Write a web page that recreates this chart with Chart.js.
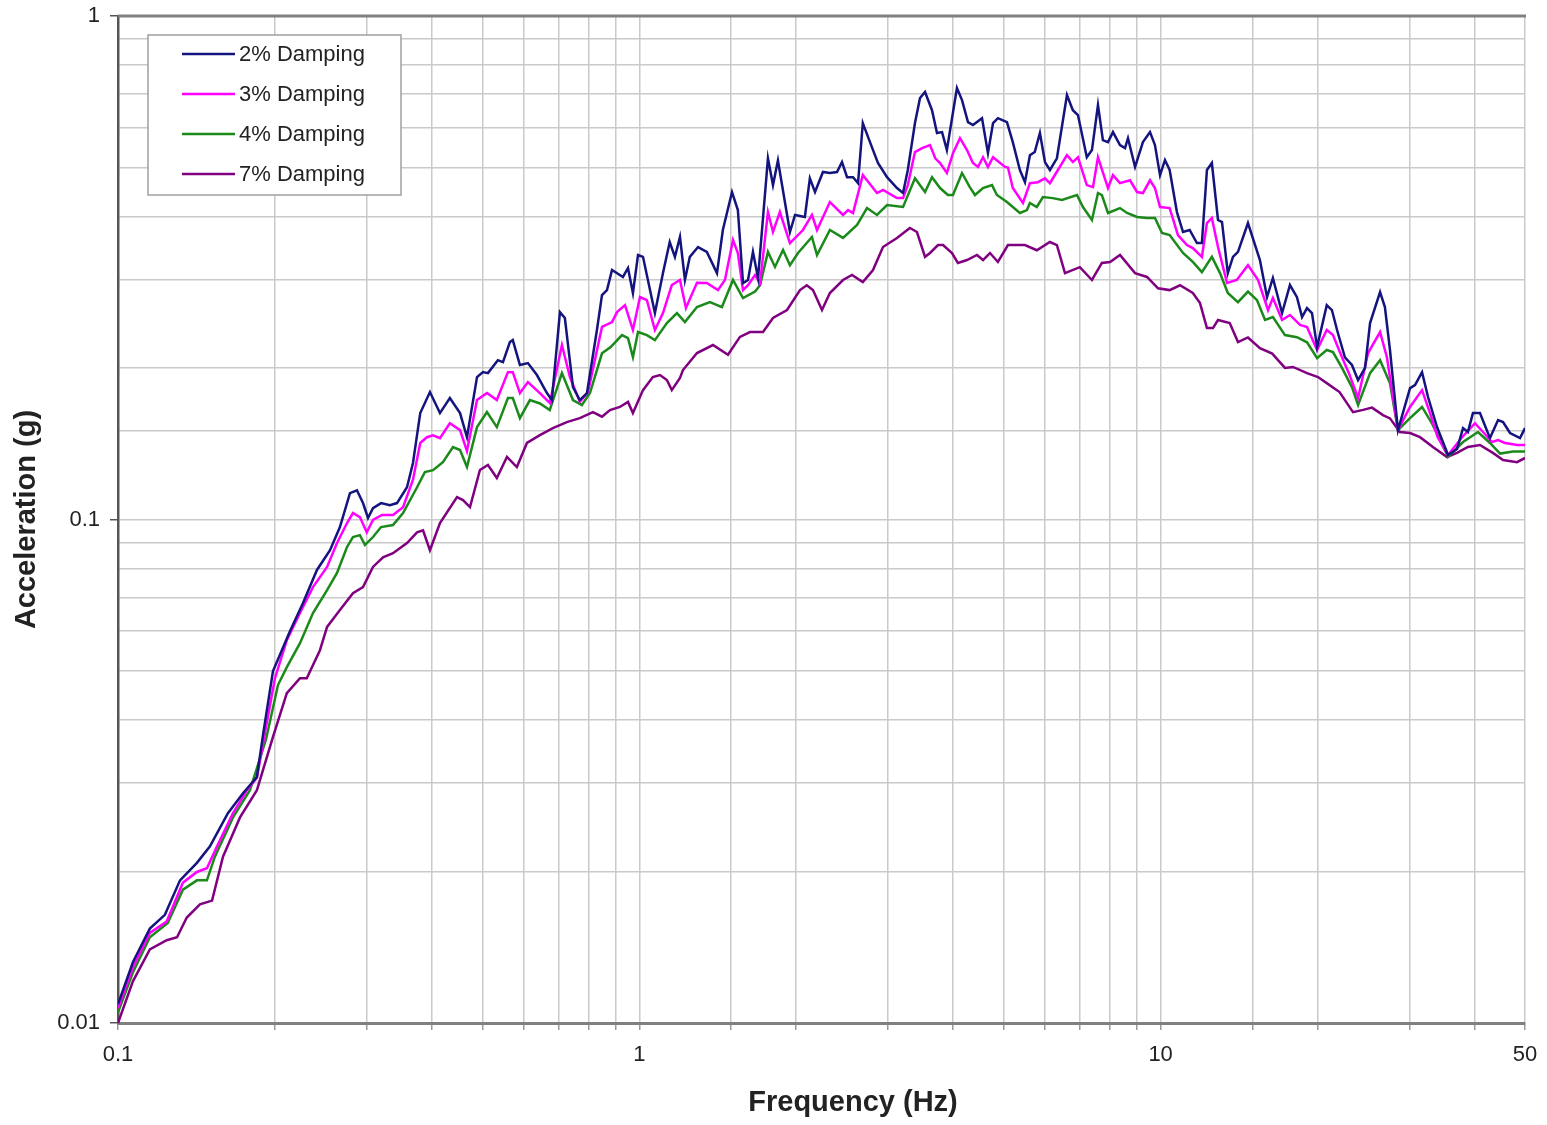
<!DOCTYPE html>
<html>
<head>
<meta charset="utf-8">
<title>Response spectra</title>
<script src="https://cdn.jsdelivr.net/npm/chart.js@4.4.1/dist/chart.umd.min.js"></script>
<style>
  html, body { margin: 0; padding: 0; background: #fff; }
  canvas { display: block; }
</style>
</head>
<body>
<canvas id="spectrum" width="1547" height="1125"></canvas>
<script>
// [frequency (Hz), acceleration (g)]
const damp2 = [
  [0.1,0.0109],[0.1068,0.0132],[0.1151,0.0154],[0.123,0.0164],[0.1315,0.0192],[0.1417,0.0208],[0.15,0.0224],
  [0.1625,0.0261],[0.1737,0.0286],[0.1847,0.0308],[0.19,0.0377],[0.1983,0.05],[0.2137,0.06],[0.2263,0.0682],
  [0.2408,0.0794],[0.2551,0.0869],[0.2665,0.0966],[0.2786,0.1128],[0.2873,0.1143],[0.2951,0.1078],[0.3017,0.1007],
  [0.3084,0.1053],[0.3196,0.1078],[0.3323,0.1068],[0.3429,0.1078],[0.3584,0.1159],[0.368,0.1295],[0.38,0.1627],
  [0.3966,0.1791],[0.4146,0.1627],[0.4331,0.1743],[0.453,0.1627],[0.4671,0.1457],[0.4883,0.1918],[0.5013,0.1962],
  [0.5124,0.1953],[0.5354,0.2072],[0.5476,0.2053],[0.5646,0.2251],[0.5719,0.2272],[0.5902,0.2027],[0.6114,0.2045],
  [0.6362,0.1936],[0.665,0.1783],[0.6796,0.1727],[0.7043,0.2582],[0.7198,0.2513],[0.746,0.1832],[0.7689,0.1727],
  [0.7936,0.1783],[0.8293,0.2379],[0.848,0.2791],[0.8669,0.2855],[0.8865,0.313],[0.9303,0.3032],[0.9513,0.3159],
  [0.9722,0.2817],[0.9943,0.3352],[1.0164,0.3324],[1.0713,0.257],[1.1102,0.3086],[1.1438,0.3557],[1.1703,0.3324],
  [1.1968,0.364],[1.2233,0.299],[1.25,0.3324],[1.296,0.3476],[1.3474,0.34],[1.4093,0.3086],[1.4463,0.3758],
  [1.506,0.4471],[1.5455,0.4117],[1.5809,0.2949],[1.6163,0.299],[1.652,0.34],[1.6895,0.3018],[1.765,0.5216],
  [1.8048,0.4615],[1.8446,0.5166],[1.9452,0.3724],[1.9894,0.4026],[2.0778,0.3989],[2.1241,0.4759],[2.1728,0.4471],
  [2.2505,0.49],[2.3204,0.4877],[2.3947,0.49],[2.448,0.5128],[2.5033,0.4785],[2.5701,0.4785],[2.6276,0.4656],
  [2.6837,0.6129],[2.7703,0.5618],[2.8693,0.5105],[2.9868,0.4785],[3.1208,0.4553],[3.2057,0.4451],[3.2738,0.4945],
  [3.379,0.6129],[3.4551,0.6872],[3.5325,0.7064],[3.643,0.65],[3.7244,0.5855],[3.8084,0.5881],[3.8904,0.5417],
  [4.0672,0.7192],[4.1592,0.6808],[4.2705,0.6156],[4.3647,0.6074],[4.5437,0.6266],[4.6642,0.5342],[4.7703,0.6129],
  [4.874,0.6266],[5.0729,0.6156],[5.2055,0.5618],[5.3712,0.4945],[5.4927,0.4677],[5.6142,0.5291],[5.735,0.5367],
  [5.8674,0.5855],[6.0,0.5128],[6.1326,0.4945],[6.3248,0.5216],[6.612,0.6968],[6.7865,0.65],[6.9412,0.6357],
  [7.2183,0.5241],[7.384,0.5417],[7.5829,0.6655],[7.749,0.5669],[7.9257,0.5618],[8.1025,0.5881],[8.3572,0.5543],
  [8.545,0.5467],[8.6578,0.5719],[8.9324,0.5014],[9.2481,0.5618],[9.542,0.5881],[9.7525,0.5543],[9.9735,0.4831],
  [10.194,0.5174],[10.407,0.4945],[10.747,0.4079],[11.039,0.3724],[11.369,0.3758],[11.74,0.354],[12.0,0.354],
  [12.27,0.4945],[12.54,0.5105],[12.885,0.3934],[13.115,0.3898],[13.455,0.3086],[13.765,0.3324],[14.074,0.34],
  [14.708,0.388],[15.505,0.3276],[16.0,0.2765],[16.42,0.3018],[17.1,0.257],[17.706,0.2922],[18.262,0.2765],
  [18.675,0.2524],[19.09,0.263],[19.514,0.257],[19.96,0.22],[20.83,0.2665],[21.31,0.2606],[21.8,0.2379],
  [22.57,0.21],[23.28,0.2027],[23.92,0.1892],[24.67,0.2],[25.22,0.2455],[26.36,0.283],[26.93,0.2642],
  [27.54,0.2171],[28.53,0.1505],[30.09,0.1824],[30.76,0.1849],[31.73,0.1962],[32.58,0.1751],[33.9,0.1526],
  [35.59,0.1343],[37.03,0.1381],[38.03,0.1519],[38.85,0.1492],[39.73,0.1627],[40.98,0.1627],[42.83,0.1451],
  [44.39,0.1576],[45.38,0.1561],[46.8,0.1485],[48.91,0.1451],[50,0.1519]
];
const damp3 = [
  [0.1,0.0107],[0.1068,0.0129],[0.1151,0.0151],[0.124,0.0159],[0.1332,0.019],[0.1417,0.01995],[0.1481,0.0203],
  [0.1548,0.0224],[0.1662,0.0261],[0.1768,0.029],[0.1847,0.0307],[0.1914,0.0377],[0.2,0.0484],[0.2108,0.0576],
  [0.2234,0.0652],[0.2366,0.0734],[0.2518,0.0805],[0.2631,0.0898],[0.275,0.0984],[0.2823,0.103],[0.2911,0.1011],
  [0.3,0.0943],[0.3084,0.0998],[0.321,0.1021],[0.3369,0.1021],[0.3522,0.1058],[0.368,0.12],[0.38,0.1419],
  [0.3913,0.1457],[0.402,0.147],[0.4146,0.1451],[0.4331,0.1553],[0.453,0.1505],[0.4671,0.1367],[0.4883,0.1727],
  [0.5102,0.1783],[0.533,0.1727],[0.5597,0.1962],[0.5719,0.1962],[0.5902,0.1783],[0.6114,0.1875],[0.6446,0.1783],
  [0.6734,0.1704],[0.7105,0.2221],[0.7361,0.1918],[0.7689,0.1712],[0.7972,0.1791],[0.848,0.2412],[0.8865,0.2467],
  [0.9064,0.2582],[0.9387,0.2665],[0.9722,0.2379],[1.003,0.2765],[1.034,0.2726],[1.0713,0.2379],[1.1102,0.257],
  [1.1544,0.2922],[1.1968,0.299],[1.2286,0.263],[1.2902,0.2951],[1.3474,0.2949],[1.4155,0.2855],[1.4596,0.299],
  [1.5126,0.359],[1.5455,0.3383],[1.5809,0.2855],[1.6163,0.2919],[1.667,0.3059],[1.7045,0.2949],[1.765,0.408],
  [1.8048,0.3724],[1.8605,0.408],[1.9452,0.354],[2.0602,0.3758],[2.1436,0.4026],[2.1922,0.3758],[2.3204,0.4271],
  [2.4591,0.4026],[2.5144,0.4117],[2.5701,0.4062],[2.6837,0.4831],[2.857,0.4451],[2.9337,0.4512],[3.1208,0.4348],
  [3.2057,0.4348],[3.2738,0.4615],[3.379,0.5367],[3.486,0.5467],[3.6111,0.5543],[3.6962,0.5216],[3.7749,0.5105],
  [3.8904,0.4877],[3.9965,0.5342],[4.1221,0.5719],[4.2519,0.5417],[4.3647,0.5105],[4.4642,0.5014],[4.5636,0.5241],
  [4.6642,0.5014],[4.7703,0.5241],[5.0287,0.5014],[5.095,0.5],[5.2055,0.4553],[5.4441,0.4252],[5.6142,0.4656],
  [5.8144,0.4677],[6.0,0.4759],[6.1326,0.4656],[6.3535,0.4945],[6.612,0.5291],[6.7865,0.5128],[6.9412,0.5241],
  [7.2183,0.4615],[7.4175,0.4573],[7.5829,0.5241],[7.9257,0.4553],[8.1025,0.4831],[8.3572,0.4656],[8.7342,0.4717],
  [9.012,0.4471],[9.2481,0.4451],[9.542,0.4717],[9.7525,0.4553],[9.9735,0.4175],[10.407,0.4155],[10.796,0.3672],
  [11.233,0.3508],[11.528,0.346],[12.0,0.3324],[12.27,0.388],[12.54,0.3971],[12.885,0.3476],[13.41,0.2949],
  [14.0,0.299],[14.708,0.32],[15.38,0.299],[16.07,0.2606],[16.42,0.2753],[17.1,0.249],[17.706,0.2548],
  [18.51,0.2434],[19.09,0.2412],[19.96,0.2171],[20.83,0.2379],[21.41,0.2324],[22.28,0.21],[22.97,0.1953],
  [23.92,0.1743],[25.0,0.2141],[26.36,0.2357],[27.17,0.21],[28.53,0.1505],[30.09,0.1673],[31.73,0.1807],
  [32.87,0.1627],[34.0,0.1457],[35.59,0.1343],[37.87,0.1457],[40.09,0.1553],[41.54,0.1492],[43.2,0.1425],
  [44.39,0.1438],[45.78,0.1419],[48.28,0.1406],[50,0.1406]
];
const damp4 = [
  [0.1,0.0105],[0.1068,0.0126],[0.1151,0.0148],[0.1246,0.0158],[0.1332,0.0184],[0.1417,0.0192],[0.1481,0.0192],
  [0.1534,0.0214],[0.1662,0.0256],[0.1791,0.029],[0.1923,0.0366],[0.2027,0.0469],[0.2108,0.0509],[0.2234,0.0568],
  [0.2366,0.0652],[0.2518,0.0724],[0.2631,0.0783],[0.275,0.0882],[0.2823,0.0923],[0.2911,0.0931],[0.2977,0.089],
  [0.3084,0.0923],[0.3196,0.0966],[0.3369,0.0975],[0.3522,0.103],[0.3747,0.1159],[0.3878,0.1242],[0.402,0.1253],
  [0.42,0.13],[0.4391,0.1393],[0.453,0.1374],[0.4671,0.1271],[0.4883,0.1526],[0.5102,0.1634],[0.533,0.1526],
  [0.5597,0.1743],[0.5719,0.1743],[0.5902,0.159],[0.6167,0.1727],[0.6446,0.17],[0.6734,0.165],[0.7105,0.1953],
  [0.746,0.1727],[0.7759,0.1688],[0.8042,0.1783],[0.848,0.2138],[0.8812,0.22],[0.9263,0.2324],[0.9513,0.2292],
  [0.9722,0.21],[0.9943,0.2357],[1.034,0.2324],[1.0713,0.2271],[1.1296,0.2455],[1.1809,0.257],[1.2233,0.2467],
  [1.2902,0.2642],[1.366,0.2704],[1.4402,0.2642],[1.5126,0.299],[1.5809,0.2753],[1.667,0.2836],[1.7045,0.2919],
  [1.765,0.34],[1.8208,0.3174],[1.8866,0.3429],[1.9452,0.32],[2.016,0.3383],[2.1436,0.364],[2.1922,0.3352],
  [2.3204,0.3758],[2.4591,0.3626],[2.6161,0.3845],[2.7342,0.4156],[2.857,0.4026],[2.9868,0.4213],[3.2057,0.4175],
  [3.379,0.4759],[3.5325,0.4471],[3.643,0.4785],[3.7749,0.4553],[3.908,0.441],[3.9965,0.441],[4.1592,0.4877],
  [4.305,0.4573],[4.4046,0.441],[4.5636,0.4553],[4.7491,0.4615],[4.852,0.441],[5.0729,0.4271],[5.3712,0.4062],
  [5.5413,0.4117],[5.6142,0.4252],[5.7876,0.4175],[5.947,0.4369],[6.2105,0.4348],[6.4684,0.4311],[6.9104,0.441],
  [7.0959,0.4175],[7.384,0.3934],[7.5829,0.4451],[7.7154,0.441],[7.9257,0.4062],[8.3572,0.4155],[8.6202,0.4062],
  [9.012,0.3989],[9.416,0.3971],[9.7525,0.3971],[10.062,0.3706],[10.407,0.3672],[11.039,0.3383],[11.528,0.3249],
  [12.0,0.31],[12.54,0.3324],[13.0,0.3086],[13.455,0.2817],[14.074,0.2701],[14.708,0.2836],[15.31,0.2726],
  [15.86,0.249],[16.42,0.2524],[17.32,0.2324],[18.262,0.2302],[19.09,0.2249],[19.96,0.2092],[20.83,0.2171],
  [21.41,0.215],[22.28,0.2],[23.28,0.1832],[23.92,0.1688],[25.22,0.1953],[26.36,0.2072],[27.54,0.1865],
  [28.53,0.1505],[30.09,0.159],[31.73,0.1673],[33.14,0.1553],[34.35,0.1438],[35.59,0.1331],[38.03,0.1425],
  [40.62,0.1492],[42.83,0.1419],[44.78,0.1352],[47.43,0.1364],[50,0.1364]
];
const damp7 = [
  [0.1,0.01],[0.1068,0.0121],[0.1151,0.014],[0.124,0.0146],[0.1298,0.0148],[0.1355,0.0162],[0.1436,0.0172],
  [0.1515,0.0175],[0.159,0.0214],[0.1714,0.0256],[0.1847,0.029],[0.1983,0.037],[0.2108,0.0452],[0.2234,0.0484],
  [0.2302,0.0484],[0.244,0.055],[0.2518,0.0612],[0.2665,0.0661],[0.2823,0.0714],[0.2951,0.0734],[0.3084,0.0805],
  [0.3224,0.0841],[0.3369,0.0857],[0.3584,0.0898],[0.3747,0.0943],[0.3847,0.0952],[0.3966,0.0869],[0.4146,0.0984],
  [0.447,0.1108],[0.4589,0.1093],[0.4734,0.1058],[0.4946,0.1254],[0.5124,0.1283],[0.533,0.1209],[0.5573,0.1331],
  [0.5823,0.1271],[0.6087,0.1419],[0.6446,0.1471],[0.6826,0.1519],[0.726,0.1561],[0.7689,0.159],[0.8148,0.1634],
  [0.848,0.16],[0.8785,0.165],[0.9177,0.1673],[0.9513,0.1712],[0.9722,0.1627],[1.0164,0.1807],[1.0616,0.1918],
  [1.0956,0.1936],[1.1296,0.1892],[1.1544,0.1807],[1.1968,0.191],[1.2127,0.1981],[1.2902,0.2141],[1.3845,0.2221],
  [1.4794,0.2124],[1.5597,0.2305],[1.6304,0.2357],[1.727,0.2357],[1.8048,0.2513],[1.9201,0.2606],[2.0336,0.2855],
  [2.095,0.2919],[2.1533,0.2855],[2.2408,0.2606],[2.3204,0.2817],[2.4591,0.299],[2.5587,0.3059],[2.6837,0.2963],
  [2.8074,0.313],[2.9337,0.3476],[3.1208,0.3623],[3.3038,0.3793],[3.409,0.3724],[3.5325,0.3324],[3.6111,0.3383],
  [3.7413,0.3508],[3.8252,0.3508],[3.9788,0.3383],[4.0848,0.3232],[4.2519,0.3276],[4.4443,0.3353],[4.5636,0.3276],
  [4.7067,0.3383],[4.874,0.3247],[5.095,0.3508],[5.4927,0.3508],[5.7876,0.3426],[6.1326,0.3557],[6.3248,0.3508],
  [6.5546,0.3086],[7.0,0.3171],[7.384,0.299],[7.7154,0.3232],[8.0,0.3247],[8.3572,0.3352],[8.9324,0.3086],
  [9.416,0.3032],[9.8857,0.2879],[10.407,0.2855],[10.893,0.2919],[11.528,0.2817],[11.9,0.269],[12.27,0.24],
  [12.6,0.24],[12.885,0.249],[13.57,0.2455],[14.074,0.2251],[14.708,0.2299],[15.505,0.219],[16.37,0.2135],
  [17.32,0.2],[17.94,0.2009],[19.09,0.1953],[20.04,0.1918],[20.83,0.1866],[22.04,0.1791],[23.39,0.1634],
  [24.45,0.1651],[25.44,0.1668],[26.7,0.1612],[27.54,0.1588],[28.78,0.1492],[30.09,0.1485],[31.45,0.1457],
  [33.29,0.1393],[35.43,0.1331],[37.03,0.1356],[38.85,0.1393],[40.98,0.1406],[43.39,0.1356],[45.38,0.1313],
  [48.28,0.13],[50,0.1325]
];

const seriesLabels = ['2% Damping', '3% Damping', '4% Damping', '7% Damping'];
const seriesColors = ['#14147e', '#ff00ff', '#1b8a1b', '#800080'];
const xTickLabels = [0.1, 1, 10, 50];
const yTickLabels = [0.01, 0.1, 1];

const FONT = '"Liberation Sans", Arial, sans-serif';
const GRID = '#cacaca';
const AXIS = '#808080';

function toPoints(rows) {
  return rows.map(r => ({ x: r[0], y: r[1] }));
}

function isDecade(v) {
  const l = Math.log10(v);
  return Math.abs(l - Math.round(l)) < 1e-6;
}

function pickLabel(list, v) {
  const hit = list.find(t => Math.abs(t - v) / t < 1e-6);
  return hit === undefined ? '' : String(hit);
}

// keep the plot box exactly where the original has it
function noEdgePadding(scale) {
  scale.paddingTop = 0;
  scale.paddingBottom = 0;
  scale.paddingLeft = 0;
  scale.paddingRight = 0;
}

// legend box, top frame line and x title (placed like the Excel original)
const extras = {
  id: 'extras',
  afterDraw(chart) {
    const { ctx, chartArea: a } = chart;
    ctx.save();
    ctx.strokeStyle = AXIS;
    ctx.lineWidth = 3;
    ctx.beginPath();
    ctx.moveTo(a.left, a.top);
    ctx.lineTo(a.right + 1, a.top);
    ctx.stroke();

    ctx.fillStyle = '#ffffff';
    ctx.strokeStyle = '#a0a0a0';
    ctx.lineWidth = 1.5;
    ctx.fillRect(148, 35, 253, 160);
    ctx.strokeRect(148, 35, 253, 160);

    ctx.font = '22px ' + FONT;
    ctx.textBaseline = 'middle';
    ctx.textAlign = 'left';
    chart.data.datasets.forEach((ds, i) => {
      const y = 54 + i * 40;
      ctx.strokeStyle = ds.borderColor;
      ctx.lineWidth = 2.5;
      ctx.beginPath();
      ctx.moveTo(182, y);
      ctx.lineTo(235, y);
      ctx.stroke();
      ctx.fillStyle = '#222';
      ctx.fillText(ds.label, 239, y + 1);
    });

    ctx.font = 'bold 29px ' + FONT;
    ctx.textAlign = 'center';
    ctx.fillStyle = '#222';
    ctx.fillText('Frequency (Hz)', 853, 1103);
    ctx.restore();
  }
};

new Chart(document.getElementById('spectrum'), {
  type: 'line',
  data: {
    datasets: [damp2, damp3, damp4, damp7].map((rows, i) => ({
      label: seriesLabels[i],
      data: toPoints(rows),
      borderColor: seriesColors[i],
      backgroundColor: seriesColors[i],
      borderWidth: 2.5,
      pointRadius: 0,
      tension: 0,
      fill: false
    }))
  },
  options: {
    responsive: false,
    animation: false,
    layout: { padding: { top: 16, right: 22, left: 0, bottom: 0 } },
    plugins: {
      legend: { display: false },
      tooltip: { enabled: false }
    },
    scales: {
      x: {
        type: 'logarithmic',
        min: 0.1,
        max: 50,
        afterFit: (scale) => { scale.height = 102; noEdgePadding(scale); },
        border: { color: AXIS, width: 3 },
        grid: {
          color: GRID,
          lineWidth: 1.5,
          tickLength: 7,
          tickColor: '#9a9a9a'
        },
        ticks: {
          autoSkip: false,
          maxRotation: 0,
          minRotation: 0,
          padding: 12,
          color: '#222',
          font: { family: FONT, size: 22, lineHeight: 1.2 },
          callback: (v) => pickLabel(xTickLabels, v)
        },
        title: { display: false }
      },
      y: {
        type: 'logarithmic',
        min: 0.01,
        max: 1,
        afterFit: (scale) => { scale.width = 118; noEdgePadding(scale); },
        border: { color: '#555', width: 2.5 },
        grid: {
          color: GRID,
          lineWidth: 1.5,
          tickLength: 8,
          tickColor: (c) => (c.tick && isDecade(c.tick.value) ? '#555' : 'rgba(0,0,0,0)')
        },
        ticks: {
          autoSkip: false,
          padding: 10,
          color: '#222',
          font: { family: FONT, size: 22, lineHeight: 1.2 },
          callback: (v) => pickLabel(yTickLabels, v)
        },
        title: {
          display: true,
          text: 'Acceleration (g)',
          color: '#222',
          font: { family: FONT, size: 29, weight: 'bold', lineHeight: 1.2 },
          padding: { top: 10, bottom: 0 }
        }
      }
    }
  },
  plugins: [extras]
});
</script>
</body>
</html>
